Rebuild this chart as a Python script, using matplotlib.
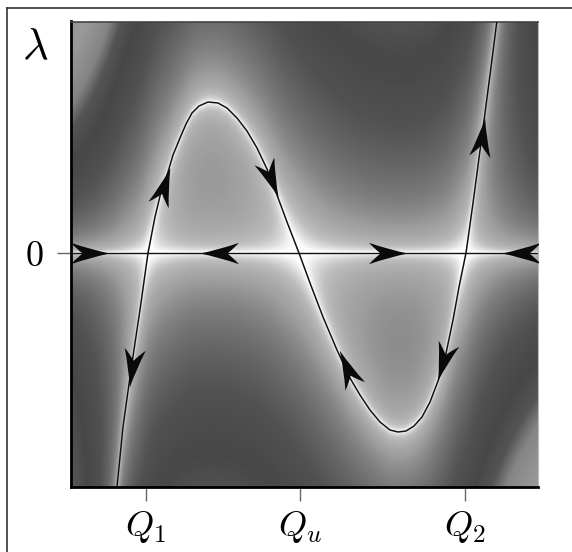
import numpy as np
import matplotlib
matplotlib.use("Agg")
import matplotlib.pyplot as plt
from matplotlib.path import Path
from matplotlib.markers import MarkerStyle
from matplotlib.transforms import Affine2D
from matplotlib.lines import Line2D

plt.rcParams['mathtext.fontset'] = 'cm'

# ---- data ----
curve_x = [-1.83, -1.77, -1.70, -1.65, -1.60, -1.52, -1.45, -1.39, -1.32, -1.27,
           -1.20, -1.14, -1.08, -1.01, -0.92, -0.82, -0.73, -0.63, -0.53, -0.43,
           -0.33, -0.23, -0.13, -0.01, 0.10, 0.23, 0.37, 0.50, 0.60, 0.70,
           0.80, 0.90, 0.98, 1.06, 1.14, 1.22, 1.30, 1.38, 1.45, 1.53,
           1.59, 1.66, 1.73, 1.79, 1.85, 1.91, 1.97]
curve_lam = [-2.34, -1.74, -1.24, -0.90, -0.57, 0.00, 0.36, 0.61, 0.81, 0.98,
             1.15, 1.29, 1.40, 1.47, 1.51, 1.50, 1.45, 1.35, 1.22, 1.05,
             0.84, 0.58, 0.31, 0.00, -0.30, -0.64, -0.97, -1.25, -1.42, -1.57,
             -1.69, -1.77, -1.79, -1.78, -1.73, -1.64, -1.49, -1.28, -1.05, -0.67,
             -0.34, 0.00, 0.50, 0.95, 1.40, 1.86, 2.33]

# arrows on the lambda = 0 line: centre x and direction (+1 right, -1 left)
h_arrow_x = [-2.10, -0.81, 0.88, 2.21]
h_arrow_dir = [1, -1, 1, -1]

# arrows on the curve: tail -> tip
c_arrow_tail = [(-1.41, 0.53), (-0.36, 0.91), (-1.66, -0.97),
                (0.53, -1.30), (1.48, -0.92), (1.79, 0.98)]
c_arrow_tip = [(-1.32, 0.81), (-0.23, 0.58), (-1.71, -1.32),
               (0.40, -1.00), (1.38, -1.26), (1.84, 1.35)]

x_ticks = [-1.54, 0.0, 1.65]
x_tick_labels = [r'$Q_1$', r'$Q_u$', r'$Q_2$']
y_ticks = [0.0]
y_tick_labels = [r'$0$']

xlim = (-2.29, 2.38)
ylim = (-2.34, 2.315)

# grey level as a function of log10|F|
shade_logF = [-3.6, -2.0, -1.6, -1.2, -0.9, -0.6, -0.3, 0.0, 0.3, 0.6, 0.85, 1.0, 1.1, 1.25, 1.6]
shade_grey = [1.0, 0.99, 0.93, 0.83, 0.74, 0.68, 0.62, 0.52, 0.42, 0.32, 0.28, 0.33, 0.52, 0.60, 0.55]

# ---- figure ----
W, H = 572, 552
fig = plt.figure(figsize=(W / 100, H / 100), dpi=100)
ax = fig.add_axes([71 / W, 1 - 487 / H, (538 - 71) / W, (487 - 21.5) / H])
ax.set_xlim(*xlim)
ax.set_ylim(*ylim)

# background field |lambda (lambda - g(x))|
cx = np.array(curve_x)
cl = np.array(curve_lam)
gx = np.linspace(xlim[0], xlim[1], 700)
gy = np.linspace(ylim[0], ylim[1], 700)
X, Y = np.meshgrid(gx, gy)
g = np.interp(X, cx, cl)
s0 = (cl[1] - cl[0]) / (cx[1] - cx[0])
s1 = (cl[-1] - cl[-2]) / (cx[-1] - cx[-2])
g = np.where(X < cx[0], cl[0] + (X - cx[0]) * s0, g)
g = np.where(X > cx[-1], cl[-1] + (X - cx[-1]) * s1, g)
F = np.abs(Y * (Y - g)) + 1e-6
shade = np.interp(np.log10(F), shade_logF, shade_grey)
ax.imshow(shade, extent=(xlim[0], xlim[1], ylim[0], ylim[1]), origin='lower',
          cmap='gray', vmin=0, vmax=1, aspect='auto', interpolation='bilinear',
          zorder=0)

ax.axhline(0, color='#111111', lw=1.0, zorder=2)
ax.plot(cx, cl, color='#111111', lw=1.1, zorder=3, solid_joinstyle='round')

# stealth arrow-head marker
verts = [(1, 0), (0.0, 0.2), (-1, 0.55), (-0.7, 0.22), (-0.4, 0),
         (-0.7, -0.22), (-1, -0.55), (0.0, -0.2), (1, 0), (1, 0)]
codes = [Path.MOVETO, Path.CURVE3, Path.CURVE3, Path.CURVE3, Path.CURVE3,
         Path.CURVE3, Path.CURVE3, Path.CURVE3, Path.CURVE3, Path.CLOSEPOLY]
head = Path(verts, codes)

def draw_head(xc, yc, ang, size=28):
    m = MarkerStyle(head, transform=Affine2D().rotate_deg(ang))
    ax.plot([xc], [yc], marker=m, markersize=size, color='#0a0a0a',
            markeredgewidth=0, linestyle='none', zorder=4)

for xc, d in zip(h_arrow_x, h_arrow_dir):
    draw_head(xc, 0.0, 0 if d > 0 else 180)

for (tx, ty), (hx, hy) in zip(c_arrow_tail, c_arrow_tip):
    p0 = ax.transData.transform((tx, ty))
    p1 = ax.transData.transform((hx, hy))
    ang = np.degrees(np.arctan2(p1[1] - p0[1], p1[0] - p0[0]))
    draw_head((tx + hx) / 2, (ty + hy) / 2, ang)

ax.set_xticks(x_ticks)
ax.set_xticklabels(x_tick_labels, fontsize=26)
ax.set_yticks(y_ticks)
ax.set_yticklabels(y_tick_labels, fontsize=26)
ax.tick_params(axis='both', length=10, width=1, color='#666666', pad=6)
ax.tick_params(axis='y', pad=10)

ax.spines['left'].set_linewidth(2)
ax.spines['bottom'].set_linewidth(2)
ax.spines['left'].set_color('black')
ax.spines['bottom'].set_color('black')
ax.spines['top'].set_linewidth(1.2)
ax.spines['top'].set_color('#444444')
ax.spines['right'].set_linewidth(0.8)
ax.spines['right'].set_color('#bbbbbb')

fig.text(35 / W, 1 - 47 / H, r'$\lambda$', fontsize=32, ha='center', va='center')

# outer frame (open on right and bottom)
fig.add_artist(Line2D([7 / W, 7 / W], [0, 1 - 8 / H], transform=fig.transFigure,
                      color='#333333', lw=1.2))
fig.add_artist(Line2D([7 / W, 1], [1 - 8 / H, 1 - 8 / H], transform=fig.transFigure,
                      color='#333333', lw=1.2))

fig.savefig('out.png', dpi=100)
